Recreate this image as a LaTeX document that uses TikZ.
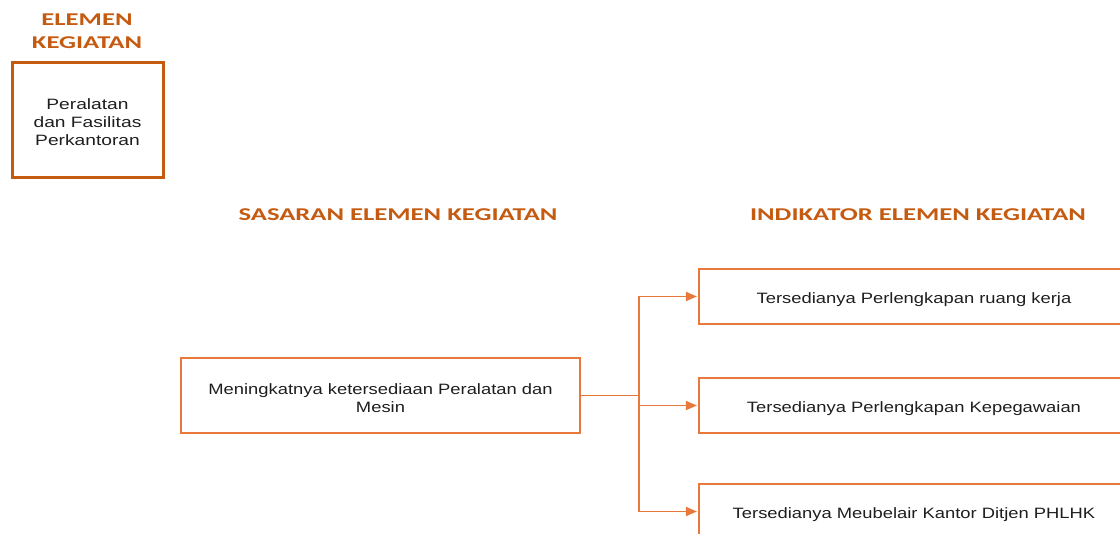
\documentclass[tikz,border=0pt]{standalone}
\usepackage{fontspec}
\setmainfont{Liberation Sans}
\newfontfamily\bodyfont[FakeStretch=1.28]{Liberation Sans}
\newfontfamily\listfont[FakeStretch=1.225]{Liberation Sans}
\newfontfamily\headfont[FakeStretch=1.48]{Carlito}
\usetikzlibrary{arrows.meta}
\definecolor{darkorange}{HTML}{C55A11}
\definecolor{lineorange}{HTML}{E8793A}
\definecolor{inktext}{HTML}{1E1E1E}
% tall invisible strut: set at the start of the first line, it lowers the text a little
\newcommand{\lowerstrut}{\rule{0pt}{12.5pt}}
\begin{document}
\begin{tikzpicture}[x=0.75pt,y=-0.75pt,
  head/.style={text=darkorange, font=\headfont\bfseries\fontsize{13.5}{17.25}\selectfont, align=center, inner sep=0pt},
  body/.style={text=inktext, font=\bodyfont\fontsize{11.25}{13.5}\selectfont, align=center, inner sep=0pt},
  listtext/.style={text=inktext, font=\listfont\fontsize{11.25}{13.5}\selectfont, align=center, inner sep=0pt},
  mainbox/.style={body, draw=darkorange, line width=2.25pt, minimum width=113.25pt, minimum height=86.25pt},
  goalbox/.style={listtext, draw=lineorange, line width=1.1pt, minimum width=299.25pt, minimum height=56.25pt},
  indbox/.style={listtext, draw=lineorange, line width=1.1pt, minimum width=322.5pt, minimum height=41.25pt},
  link/.style={draw=lineorange, line width=1.2pt},
  arrowlink/.style={link, -{Triangle[length=8.25pt, width=6.75pt]}, shorten >=1pt}]
\useasboundingbox (0,0) rectangle (1120,533);
\clip (0,0) rectangle (1120,533);

% column headings
\node[head] (hElem) at (87,31) {ELEMEN\\KEGIATAN};
\node[head] (hGoal) at (398,215) {SASARAN ELEMEN KEGIATAN};
\node[head] (hInd) at (918,215) {INDIKATOR ELEMEN KEGIATAN};

% activity element
\node[mainbox] (elem) at (87.5,119.5) {\lowerstrut Peralatan\\dan Fasilitas\\Perkantoran};

% goal
\node[goalbox] (goal) at (380.5,395.5) {\lowerstrut Meningkatnya ketersediaan Peralatan dan\\Mesin};

% indicators
\node[indbox] (ind1) at (914,296.5) {\lowerstrut Tersedianya Perlengkapan ruang kerja};
\node[indbox] (ind2) at (914,405.5) {\lowerstrut Tersedianya Perlengkapan Kepegawaian};
\node[indbox] (ind3) at (914,511.5) {\lowerstrut Tersedianya Meubelair Kantor Ditjen PHLHK};

% branching connector
\coordinate (fork) at (639,395.5);
\draw[link] (goal.east) -- (fork);
\draw[arrowlink] (fork) |- (ind1.west);
\draw[arrowlink] (fork) |- (ind2.west);
\draw[arrowlink] (fork) |- (ind3.west);
\end{tikzpicture}
\end{document}
